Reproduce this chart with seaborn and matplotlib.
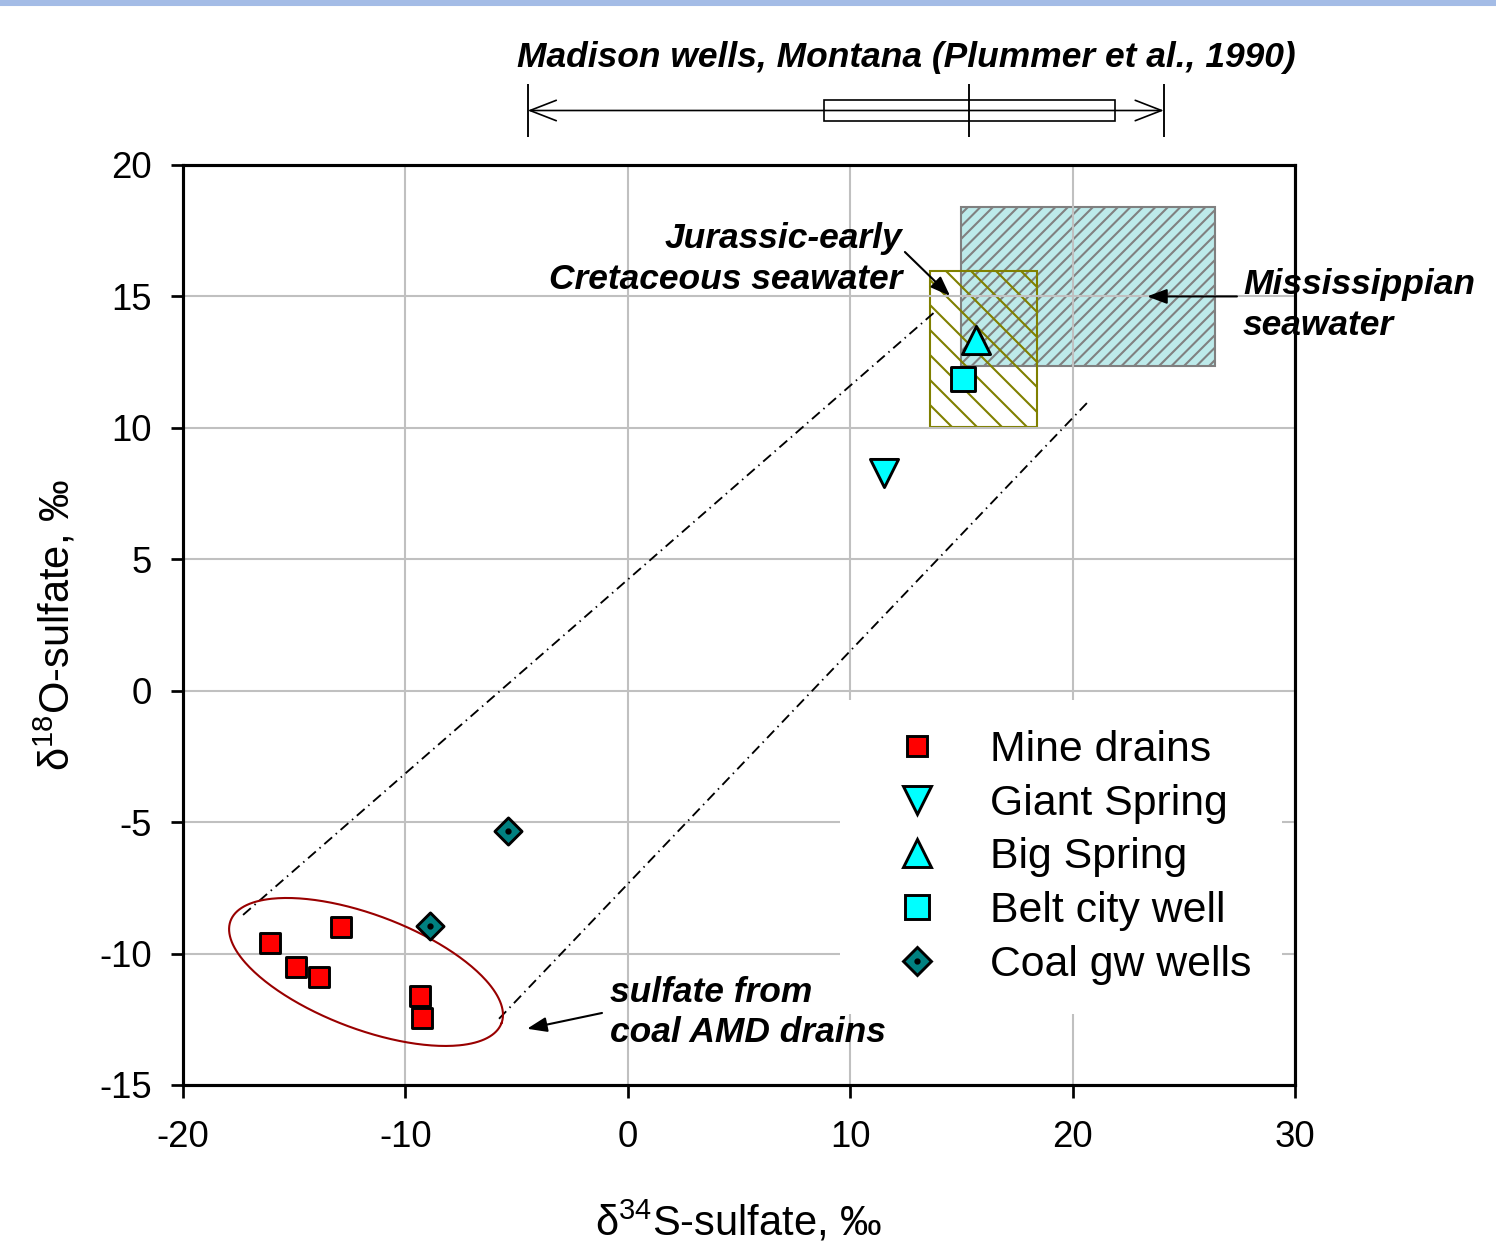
import numpy as np
import pandas as pd
import matplotlib
matplotlib.use("Agg")
import matplotlib.pyplot as plt
from matplotlib.patches import Rectangle
from matplotlib.lines import Line2D
from matplotlib.legend_handler import HandlerTuple
import seaborn as sns

# ---------------- data ----------------
mine_s34 = [-16.1, -14.9, -13.9, -12.9, -9.35, -9.25]
mine_o18 = [-9.6, -10.5, -10.9, -9.0, -11.6, -12.45]
giant_s34 = [11.5]
giant_o18 = [8.3]
big_s34 = [15.65]
big_o18 = [13.35]
belt_s34 = [15.05]
belt_o18 = [11.85]
coal_s34 = [-5.4, -8.9]
coal_o18 = [-5.35, -8.95]

# seawater boxes (x0, x1, y0, y1)
miss_box = [15.0, 26.4, 12.35, 18.4]
jura_box = [13.6, 18.4, 10.05, 15.95]

# mixing envelope lines (x0, y0, x1, y1)
env_upper = [-17.3, -8.53, 13.9, 14.48]
env_lower = [-5.79, -12.48, 20.65, 10.95]

# AMD ellipse: centre and conjugate semi-axes (data units)
ell_center = [-11.77, -10.70]
ell_u = [6.09, -1.95]
ell_v = [-0.91, -2.03]

# Madison wells summary (Plummer et al., 1990)
madison = dict(whislo=-4.5, q1=8.8, med=15.35, q3=21.9, whishi=24.1)

x_ticks = [-20, -10, 0, 10, 20, 30]
y_ticks = [-15, -10, -5, 0, 5, 10, 15, 20]

groups = ["Mine drains", "Giant Spring", "Big Spring", "Belt city well", "Coal gw wells"]
df = pd.DataFrame({
    "group": (["Mine drains"] * len(mine_s34) + ["Giant Spring"] * len(giant_s34)
              + ["Big Spring"] * len(big_s34) + ["Belt city well"] * len(belt_s34)
              + ["Coal gw wells"] * len(coal_s34)),
    "s34": mine_s34 + giant_s34 + big_s34 + belt_s34 + coal_s34,
    "o18": mine_o18 + giant_o18 + big_o18 + belt_o18 + coal_o18,
})

style = {
    "Mine drains": dict(marker="s", color="#FF0000", ms=9.8),
    "Giant Spring": dict(marker="v", color="#00FFFF", ms=13.5),
    "Big Spring": dict(marker="^", color="#00FFFF", ms=13.5),
    "Belt city well": dict(marker="s", color="#00FFFF", ms=11.5),
    "Coal gw wells": dict(marker="D", color="#008080", ms=9.2),
}

# ---------------- style ----------------
sns.set_style("ticks")
plt.rcParams["font.family"] = ["Liberation Sans", "DejaVu Sans"]
plt.rcParams["mathtext.fontset"] = "custom"
plt.rcParams["mathtext.rm"] = "Liberation Sans"
plt.rcParams["mathtext.it"] = "Liberation Sans:italic"
plt.rcParams["hatch.linewidth"] = 1.0
plt.rcParams["axes.unicode_minus"] = False
for k in ("text.color", "axes.labelcolor", "xtick.color", "ytick.color"):
    plt.rcParams[k] = "black"

W, H = 1496, 1242
fig = plt.figure(figsize=(W / 150, H / 150), dpi=150)
fig.patch.set_facecolor("white")

L, R, T, B = 183, 1295, 165, 1085
ax = fig.add_axes([L / W, 1 - B / H, (R - L) / W, (B - T) / H])

# top blue band
fig.add_artist(Rectangle((0, 1 - 5 / H), 1, 5 / H, transform=fig.transFigure,
                         color="#A4BCE6", zorder=0))

# seawater boxes
ax.add_patch(Rectangle((miss_box[0], miss_box[2]), miss_box[1] - miss_box[0],
                       miss_box[3] - miss_box[2], facecolor="#BDEAEA",
                       edgecolor="#808080", hatch="////", lw=1.0, zorder=0.3))
ax.add_patch(Rectangle((jura_box[0], jura_box[2]), jura_box[1] - jura_box[0],
                       jura_box[3] - jura_box[2], facecolor="none",
                       edgecolor="#808000", hatch="\\\\", lw=1.0, zorder=0.35))

# envelope lines
dd = (0, (5.5, 2.6, 0.8, 2.6))
for ln in (env_upper, env_lower):
    ax.plot([ln[0], ln[2]], [ln[1], ln[3]], color="black", lw=0.9,
            linestyle=dd, zorder=2)

# ellipse
t = np.linspace(0, 2 * np.pi, 300)
ex = ell_center[0] + ell_u[0] * np.cos(t) + ell_v[0] * np.sin(t)
ey = ell_center[1] + ell_u[1] * np.cos(t) + ell_v[1] * np.sin(t)
ax.plot(ex, ey, color="#990000", lw=1.0, zorder=2)

# scatter points
for g in groups:
    sub = df[df.group == g]
    st = style[g]
    sns.scatterplot(data=sub, x="s34", y="o18", marker=st["marker"],
                    color=st["color"], s=st["ms"] ** 2, edgecolor="black",
                    linewidth=1.4, ax=ax, zorder=4, legend=False)
sub = df[df.group == "Coal gw wells"]
ax.scatter(sub.s34, sub.o18, marker="o", s=4, color="black", zorder=5)

# axes
ax.set_xlim(-20, 30)
ax.set_ylim(-15, 20)
ax.set_xticks(x_ticks)
ax.set_yticks(y_ticks)
ax.grid(True, color="#C0C0C0", lw=1.0)
ax.set_axisbelow(True)
for sp in ax.spines.values():
    sp.set_color("black")
    sp.set_linewidth(1.5)
    sp.set_visible(True)
ax.tick_params(axis="both", direction="out", length=6, width=1.3,
               labelsize=17.5, colors="black")
ax.tick_params(axis="x", pad=11)
ax.tick_params(axis="y", pad=9)
ax.set_xlabel(r"δ$^{\mathregular{34}}$S-sulfate, ‰", fontsize=20, labelpad=21)
ax.set_ylabel(r"δ$^{\mathregular{18}}$O-sulfate, ‰", fontsize=20, labelpad=10)

# annotations
bi = dict(fontsize=17, fontweight="bold", fontstyle="italic", color="black")
arrow = dict(arrowstyle="-|>,head_length=0.8,head_width=0.3", color="black",
             lw=1.0, shrinkA=0, shrinkB=0, mutation_scale=10)
ax.annotate("", xy=(14.49, 15.02), xytext=(12.46, 16.69), arrowprops=arrow,
            annotation_clip=False)
ax.text(12.33, 16.41, "Jurassic-early\nCretaceous seawater", ha="right",
        va="center", linespacing=1.3, **bi)
ax.annotate("", xy=(23.35, 15.0), xytext=(27.39, 15.0), arrowprops=arrow,
            annotation_clip=False)
ax.text(27.66, 14.67, "Mississippian\nseawater", ha="left", va="center",
        linespacing=1.3, clip_on=False, zorder=6, **bi)
ax.annotate("", xy=(-4.53, -12.86), xytext=(-1.16, -12.26), arrowprops=arrow,
            annotation_clip=False)
ax.text(-0.80, -12.24, "sulfate from\ncoal AMD drains", ha="left", va="center",
        linespacing=1.3, **bi)

# legend
handles = []
for g in groups:
    st = style[g]
    h = Line2D([], [], ls="none", marker=st["marker"], markersize=st["ms"],
               markerfacecolor=st["color"], markeredgecolor="black",
               markeredgewidth=1.4)
    if g == "Coal gw wells":
        dot = Line2D([], [], ls="none", marker="o", markersize=2,
                     markerfacecolor="black", markeredgecolor="black")
        h = (h, dot)
    handles.append(h)
leg = ax.legend(handles, groups, loc="upper left",
                bbox_to_anchor=(840 / W, 1 - 700 / H),
                bbox_transform=fig.transFigure, borderaxespad=0,
                fontsize=20.5, frameon=True, framealpha=1, facecolor="white",
                edgecolor="none", fancybox=False, borderpad=0.7,
                handlelength=2.2, handletextpad=0.62, labelspacing=0.32,
                handler_map={tuple: HandlerTuple(ndivide=1)})
leg.set_zorder(6)

# Madison wells range bar
ax2 = fig.add_axes([L / W, 1 - 137 / H, (R - L) / W, 53 / H])
ax2.set_xlim(-20, 30)
ax2.set_ylim(-1, 1)
ax2.axis("off")
ax2.annotate("", xy=(madison["whislo"], 0), xytext=(madison["whishi"], 0),
             arrowprops=dict(arrowstyle="<->,head_length=0.9,head_width=0.35",
                             lw=0.8, color="black", shrinkA=0, shrinkB=0,
                             mutation_scale=14))
ax2.add_patch(Rectangle((madison["q1"], -0.4), madison["q3"] - madison["q1"], 0.8,
                        facecolor="none", edgecolor="black", lw=0.8))
ax2.vlines([madison["whislo"], madison["whishi"], madison["med"]], -1, 1,
           color="black", lw=0.9)
fig.text(906 / W, 1 - 57 / H, "Madison wells, Montana (Plummer et al., 1990)",
         ha="center", va="center", **bi)

fig.savefig("out.png", dpi=150)
